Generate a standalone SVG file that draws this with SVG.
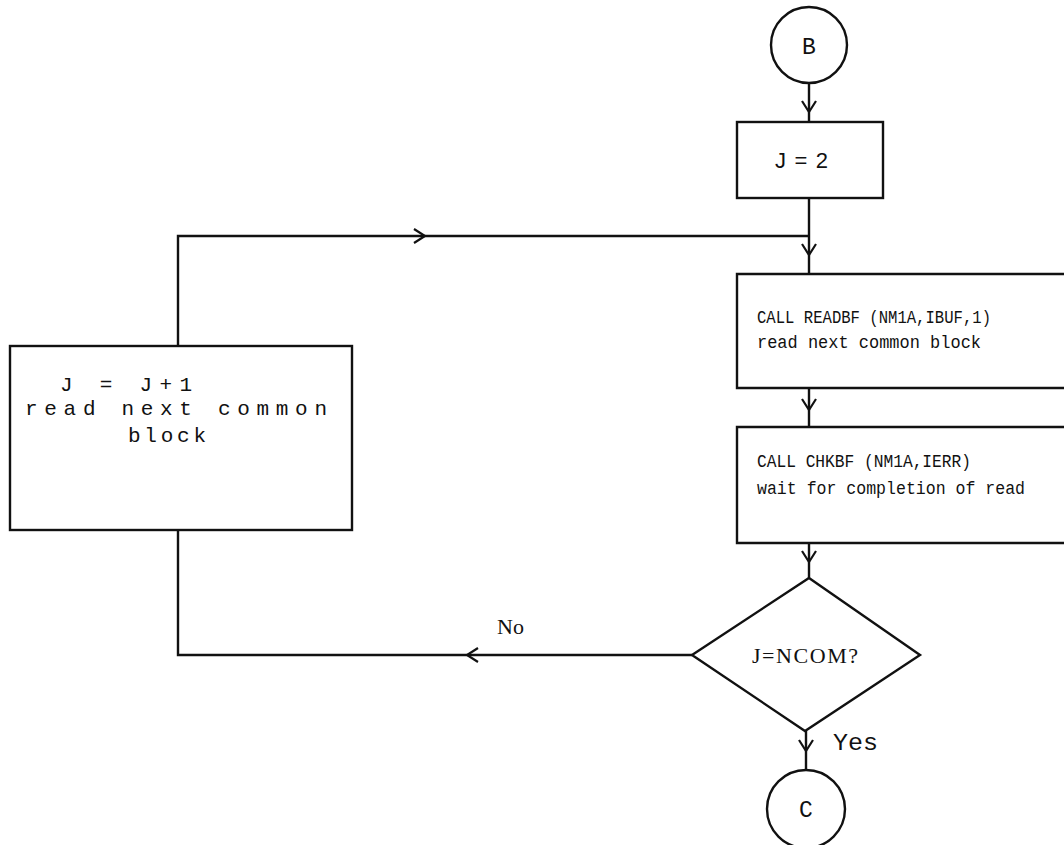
<svg xmlns="http://www.w3.org/2000/svg" width="1064" height="845" viewBox="0 0 1064 845">
<defs>
<style>
.ln{fill:none;stroke:#111;stroke-width:2.4}
.box{fill:#fff;stroke:#111;stroke-width:2.4}
.ah{fill:none;stroke:#111;stroke-width:2.2}
.mono{font-family:"Liberation Mono","Courier New",monospace;fill:#111}
.ser{font-family:"Liberation Serif","Times New Roman",serif;fill:#111}
.sans{font-family:"Liberation Sans",Arial,sans-serif;fill:#111}
.rb{font-size:18.8px}
</style>
</defs>
<rect width="1064" height="845" fill="#fff"/>
<g id="connectors">
<line class="ln" x1="809" y1="83" x2="809" y2="122"/>
<polyline class="ah" points="802,101 809,112 816,101"/>
<line class="ln" x1="809" y1="198" x2="809" y2="274"/>
<polyline class="ah" points="802,244 809,255 816,244"/>
<polyline class="ln" points="178,346 178,236 809,236"/>
<polyline class="ah" points="414,229 425,236 414,243"/>
<line class="ln" x1="809" y1="388" x2="809" y2="427"/>
<polyline class="ah" points="802,399 809,410 816,399"/>
<line class="ln" x1="809" y1="543" x2="809" y2="578"/>
<polyline class="ah" points="802,551 809,562 816,551"/>
<polyline class="ln" points="692,655 178,655 178,530"/>
<polyline class="ah" points="478,648 467,655 478,662"/>
<line class="ln" x1="806" y1="731" x2="806" y2="770"/>
<polyline class="ah" points="799,740 806,751 813,740"/>
<text class="ser" x="497" y="634" font-size="22">No</text>
<text class="mono" x="833" y="750" font-size="23" textLength="45" lengthAdjust="spacingAndGlyphs">Yes</text>
</g>
<g id="B">
<circle class="box" cx="809" cy="45" r="38"/>
<text class="mono" x="809" y="54" font-size="23" text-anchor="middle">B</text>
</g>
<g id="J2">
<rect class="box" x="737" y="122" width="146" height="76"/>
<text class="sans" x="775" y="168" font-size="22" textLength="53" lengthAdjust="spacing">J=2</text>
</g>
<g id="readbf">
<path class="box" d="M1064,274 H737 V388 H1064"/>
<text class="mono rb" x="757" y="323" textLength="234" lengthAdjust="spacingAndGlyphs">CALL READBF (NM1A,IBUF,1)</text>
<text class="mono rb" x="757" y="348" textLength="224" lengthAdjust="spacingAndGlyphs">read next common block</text>
</g>
<g id="chkbf">
<path class="box" d="M1064,427 H737 V543 H1064"/>
<text class="mono rb" x="757" y="467" textLength="214" lengthAdjust="spacingAndGlyphs">CALL CHKBF (NM1A,IERR)</text>
<text class="mono rb" x="757" y="494" textLength="268" lengthAdjust="spacingAndGlyphs">wait for completion of read</text>
</g>
<g id="incr">
<rect class="box" x="10" y="346" width="342" height="184"/>
<text class="mono" x="60" y="391" font-size="21" textLength="132" lengthAdjust="spacing">J = J+1</text>
<text class="mono" x="25" y="415" font-size="21" textLength="302" lengthAdjust="spacing">read next common</text>
<text class="mono" x="128" y="442" font-size="21" textLength="78" lengthAdjust="spacing">block</text>
</g>
<g id="decision">
<polygon class="box" points="809,578 920,655 805,731 692,655"/>
<text class="ser" x="752" y="663" font-size="22" textLength="106" lengthAdjust="spacing">J=NCOM?</text>
</g>
<g id="C">
<circle class="box" cx="806" cy="809" r="39"/>
<text class="mono" x="806" y="817" font-size="23" text-anchor="middle">C</text>
</g>
</svg>
